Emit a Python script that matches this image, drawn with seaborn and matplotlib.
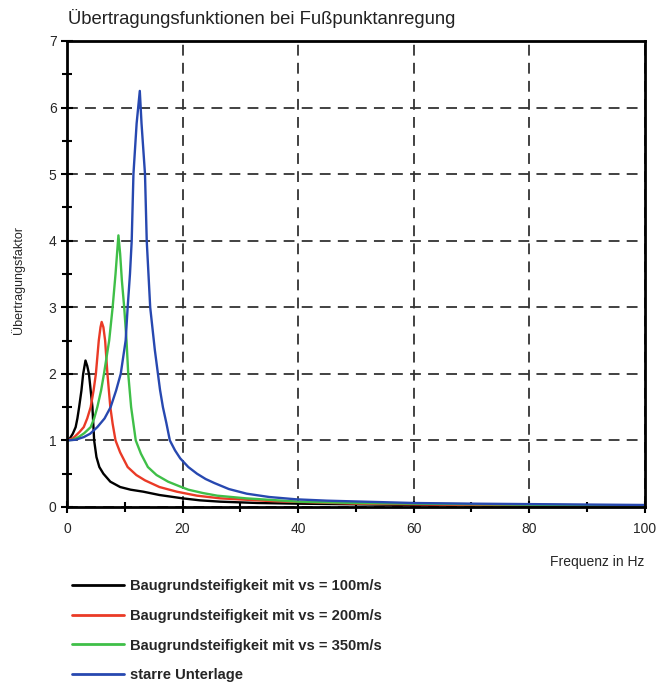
import numpy as np
import pandas as pd
import matplotlib
matplotlib.use("Agg")
import matplotlib.pyplot as plt
import seaborn as sns
from matplotlib.ticker import MultipleLocator

# values
x_100 = [0, 0.5, 1.0, 1.5, 1.8, 2.1, 2.5, 2.8, 3.2, 3.5, 3.8, 4.1, 4.4, 4.55, 4.7, 5.1, 5.6, 6.3, 7.5, 9.2, 11,
         13.2, 16, 20, 23, 26.5, 33, 40, 50, 60, 80, 100]
y_100 = [1.0, 1.03, 1.1, 1.2, 1.33, 1.5, 1.75, 2.0, 2.2, 2.12, 2.0, 1.75, 1.5, 1.25, 1.0, 0.75, 0.6, 0.5, 0.38, 0.3,
         0.26, 0.23, 0.18, 0.13, 0.1, 0.08, 0.06, 0.05, 0.04, 0.03, 0.02, 0.015]

x_200 = [0, 1, 1.5, 2.2, 2.9, 3.5, 4.1, 4.6, 5.0, 5.5, 5.8, 6.0, 6.3, 6.6, 7.0, 7.5, 7.9, 8.4, 9.2, 10.5, 12,
         13.5, 16, 19, 22.5, 26.5, 35, 50, 70, 100]
y_200 = [1.0, 1.03, 1.07, 1.13, 1.2, 1.33, 1.5, 1.75, 2.0, 2.5, 2.7, 2.78, 2.7, 2.5, 2.0, 1.5, 1.25, 1.0, 0.82, 0.6,
         0.48, 0.4, 0.3, 0.23, 0.17, 0.13, 0.09, 0.05, 0.03, 0.02]

x_350 = [0, 1, 2, 3, 4.1, 4.7, 5.25, 5.9, 6.4, 7.3, 7.9, 8.4, 8.9, 9.2, 9.5, 9.9, 10.3, 10.6, 11.1, 11.5, 11.9,
         12.8, 14.0, 15.5, 17.5, 19.5, 21.0, 23.5, 26.0, 31, 40, 50, 60, 85, 100]
y_350 = [1.0, 1.01, 1.05, 1.11, 1.2, 1.33, 1.5, 1.75, 2.0, 2.5, 3.0, 3.5, 4.08, 3.8, 3.4, 3.0, 2.5, 2.0, 1.5, 1.25, 1.0,
         0.8, 0.6, 0.48, 0.38, 0.31, 0.26, 0.21, 0.17, 0.13, 0.08, 0.06, 0.05, 0.03, 0.02]

x_starr = [0, 1.5, 2.9, 4, 5.25, 6.5, 7.55, 8.5, 9.3, 10.15, 10.5, 10.9, 11.2, 11.5, 12.05, 12.6, 12.9, 13.5, 13.8,
           14.4, 15.2, 16.1, 16.6, 17.2, 17.8, 18.7, 19.6, 21, 22.5, 24, 25.5, 28, 31.1, 35, 39.7, 45, 51.3, 60, 70,
           85, 100]
y_starr = [1.0, 1.01, 1.05, 1.1, 1.2, 1.33, 1.5, 1.75, 2.0, 2.5, 3.0, 3.5, 4.0, 5.0, 5.76, 6.25, 5.76, 5.0, 4.0,
           3.0, 2.36, 1.76, 1.5, 1.26, 1.0, 0.85, 0.73, 0.6, 0.5, 0.42, 0.36, 0.27, 0.2, 0.15, 0.115, 0.095, 0.08,
           0.06, 0.05, 0.04, 0.03]

labels = ["Baugrundsteifigkeit mit vs = 100m/s",
          "Baugrundsteifigkeit mit vs = 200m/s",
          "Baugrundsteifigkeit mit vs = 350m/s",
          "starre Unterlage"]
colors = ["#000000", "#ea3a26", "#3fbf48", "#2748b0"]

frames = []
for lab, xs, ys in zip(labels, [x_100, x_200, x_350, x_starr], [y_100, y_200, y_350, y_starr]):
    frames.append(pd.DataFrame({"f": xs, "v": ys, "serie": lab}))
df = pd.concat(frames, ignore_index=True)

sns.set_style("white")
plt.rcParams['font.family'] = ['Liberation Sans', 'DejaVu Sans']

fig = plt.figure(figsize=(6.6, 6.83), dpi=100)
ax = fig.add_axes([0.1015, 0.2577, 0.8755, 0.6823])

sns.lineplot(data=df, x="f", y="v", hue="serie", palette=dict(zip(labels, colors)),
             estimator=None, sort=False, linewidth=1.7, ax=ax, legend=False)

ax.set_xlim(0, 100)
ax.set_ylim(0, 7)
ax.xaxis.set_major_locator(MultipleLocator(20))
ax.xaxis.set_minor_locator(MultipleLocator(10))
ax.yaxis.set_major_locator(MultipleLocator(1))
ax.yaxis.set_minor_locator(MultipleLocator(0.5))
ax.tick_params(which="both", bottom=True, left=True, color="black")
ax.tick_params(which="major", direction="inout", length=9, width=1.5, labelsize=10, pad=3)
ax.tick_params(which="minor", direction="inout", length=7, width=1.5)
ax.tick_params(axis="x", pad=6)
for s in ax.spines.values():
    s.set_linewidth(2)
    s.set_color("black")
ax.grid(True, which="major", color="#333333", linestyle=(0, (6, 4)), linewidth=1.3)
ax.set_axisbelow(True)

ax.set_xlabel("")
ax.set_ylabel("")
fig.text(0.977, 0.177, "Frequenz in Hz", ha="right", va="center", fontsize=10)
fig.text(0.027, 0.59, "Übertragungsfaktor", rotation=90, ha="center", va="center", fontsize=9)
fig.text(0.103, 0.973, "Übertragungsfunktionen bei Fußpunktanregung", ha="left", va="center",
         fontsize=13.3, color="#222222")

handles = [plt.Line2D([], [], color=c, linewidth=2) for c in colors]
fig.legend(handles, labels, loc="upper left", bbox_to_anchor=(0.089, 0.1715), frameon=False,
           handlelength=3.55, handletextpad=0.4, labelspacing=1.07,
           prop={"weight": "bold", "size": 10.6})

fig.savefig("out.png", dpi=100)
